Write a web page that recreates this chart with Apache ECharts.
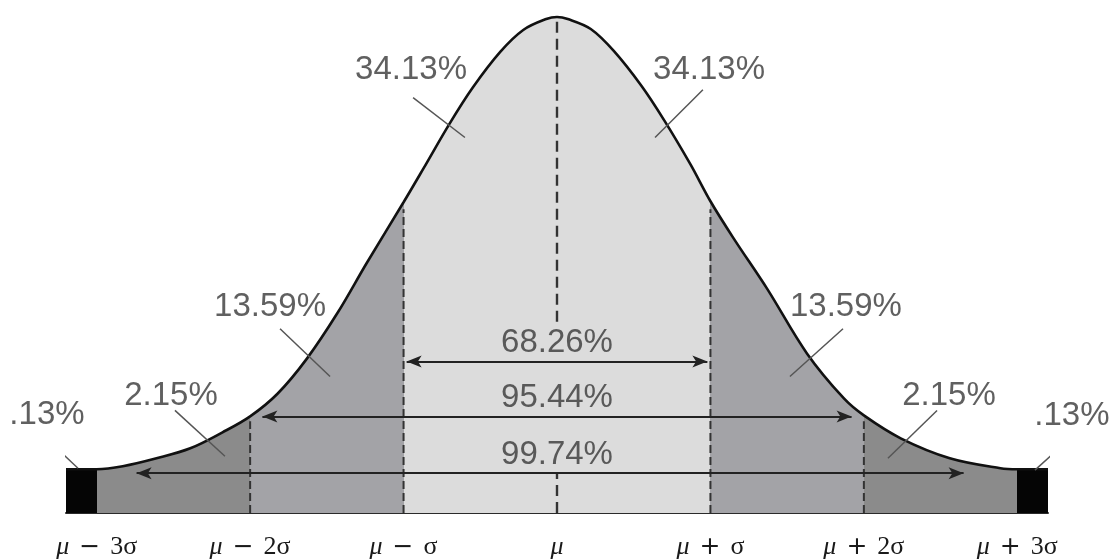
<!DOCTYPE html>
<html><head><meta charset="utf-8">
<script src="https://cdn.jsdelivr.net/npm/echarts@6/dist/echarts.min.js"></script>
<style>html,body{margin:0;padding:0;background:#fff}#c{width:1112px;height:560px}</style>
</head><body><div id="c"></div>
<script>
// Curve (x in sigma units, height in chart units)
const curveX = [-3.2,-3,-2.83,-2.61,-2.39,-2.18,-2,-1.82,-1.63,-1.43,-1.24,-1,-0.87,-0.7,-0.55,-0.37,-0.22,-0.07,0,
                0.07,0.22,0.37,0.55,0.7,0.87,1,1.15,1.37,1.63,1.87,2,2.24,2.56,2.89,3,3.2];
const curveY = [44,44,47,55,65,81,97,120,155,201,251,312,346,391,427,463,485,496,498,
                496,486,464,429,394,350,313,276,225,160,115,98,75,55,45,44,44];

// Region boundaries (sigma) and fills
const regionEdges = [-3.2,-3,-2,-1,1,2,3,3.2];
const regionColors = ['#050505','#8b8b8b','#a3a3a7','#dcdcdc','#a3a3a7','#8b8b8b','#050505'];

// Axis ticks: [operator, suffix] ('' operator = plain μ)
const tickVals = [-3,-2,-1,0,1,2,3];
const tickOps = ['−','−','−','','+','+','+'];
const tickSuffix = ['3σ','2σ','σ','','σ','2σ','3σ'];

// Dashed verticals
const dashX = [-2,-1,1,2,0,0];
const dashBottom = [0,0,0,0,192,0];
const dashTop = [92,305,305,92,498,40];

// Percentage labels
const pctText = ['.13%','2.15%','13.59%','34.13%','34.13%','13.59%','2.15%','.13%'];
const pctX = [-3.324,-2.516,-1.870,-0.951,0.991,1.883,2.555,3.356];
const pctY = [98,118,207,445,445,207,118,97];

// Leader lines
const leadX1 = [-3.350,-2.490,-1.805,-0.938,0.951,1.864,2.477,3.363];
const leadY1 = [78,103,185,417,425,185,103,78];
const leadX2 = [-3.122,-2.164,-1.479,-0.600,0.639,1.518,2.157,3.115];
const leadY2 = [45,57,137,377,377,137,55,43];

// Range arrows
const arrowText = ['68.26%','95.44%','99.74%'];
const arrowFrom = [-0.98,-1.92,-2.74];
const arrowTo = [0.98,1.92,2.65];
const arrowY = [152,97,40];
const arrowLabelY = [171,116,58];

const chart = echarts.init(document.getElementById('c'), null, {renderer:'canvas'});

const pieces = regionColors.map((c,i)=> i===regionColors.length-1
  ? {gte:regionEdges[i], lte:regionEdges[i+1], color:c}
  : {gte:regionEdges[i], lt:regionEdges[i+1], color:c});

const series = [];
series.push({
  type:'line', data: curveX.map((x,i)=>[x,curveY[i]]), smooth:0.35, symbol:'none',
  lineStyle:{color:'#111', width:2.6}, areaStyle:{opacity:1}, z:2, clip:false
});
dashX.forEach((x,i)=>{
  const center = x===0;
  series.push({type:'line', data:[[x,dashBottom[i]],[x,dashTop[i]]], symbol:'none', z:3,
    lineStyle:{color:'#333', width: center?2.4:2, type: center?[11,6]:[8,4]}});
});
series.push({type:'line', data:[], z:4,
  markLine:{silent:true, symbol:['arrow','arrow'], symbolSize:[9,15], animation:false,
    label:{show:false},
    lineStyle:{color:'#222', width:2, type:'solid'},
    data: arrowText.map((t,i)=>[{coord:[arrowFrom[i],arrowY[i]]},{coord:[arrowTo[i],arrowY[i]]}])}
});
leadX1.forEach((x,i)=>{
  series.push({type:'line', data:[[x,leadY1[i]],[leadX2[i],leadY2[i]]], symbol:'none', z:5, clip:false,
    lineStyle:{color:'#555', width:1.5}});
});
series.push({type:'scatter', symbolSize:0, clip:false, z:6,
  data: pctText.map((t,i)=>({name:t, value:[pctX[i],pctY[i]]}))
    .concat(arrowText.map((t,i)=>({name:t, value:[0,arrowLabelY[i]]}))),
  label:{show:true, position:'inside', formatter:'{b}', fontFamily:'Liberation Sans, Arial, sans-serif',
    fontSize:33, color:'#383838'}
});

const sp = '\u2002';
const serif = 'Liberation Serif, DejaVu Serif, serif';
chart.setOption({
  animation:false,
  grid:{left:66, right:64, top:17, bottom:45, containLabel:false},
  xAxis:{type:'value', min:-3.2, max:3.2,
    axisLine:{show:true, onZero:false, lineStyle:{color:'#2a2a2a', width:2}},
    axisTick:{show:false}, splitLine:{show:false},
    axisLabel:{customValues:tickVals, margin:21, fontFamily:serif, fontSize:26, color:'#1a1a1a',
      formatter:(v)=>{const k=tickVals.indexOf(v); if(k<0) return '';
        if(!tickOps[k]) return '{m|μ}';
        return '{m|μ}{s|'+sp+'}{o|'+tickOps[k]+'}{s|'+sp+'}{t|'+tickSuffix[k]+'}';},
      rich:{
        m:{fontStyle:'italic', fontFamily:serif, fontSize:26, color:'#1a1a1a'},
        s:{fontFamily:serif, fontSize:20, color:'#1a1a1a'},
        o:{fontFamily:'DejaVu Sans, sans-serif', fontSize:25, color:'#1a1a1a'},
        t:{fontFamily:serif, fontSize:26, color:'#1a1a1a'}}}
  },
  yAxis:{type:'value', min:0, max:498, show:false, splitLine:{show:false}},
  visualMap:{type:'piecewise', show:false, dimension:0, seriesIndex:0, pieces:pieces},
  series:series
});
</script></body></html>
